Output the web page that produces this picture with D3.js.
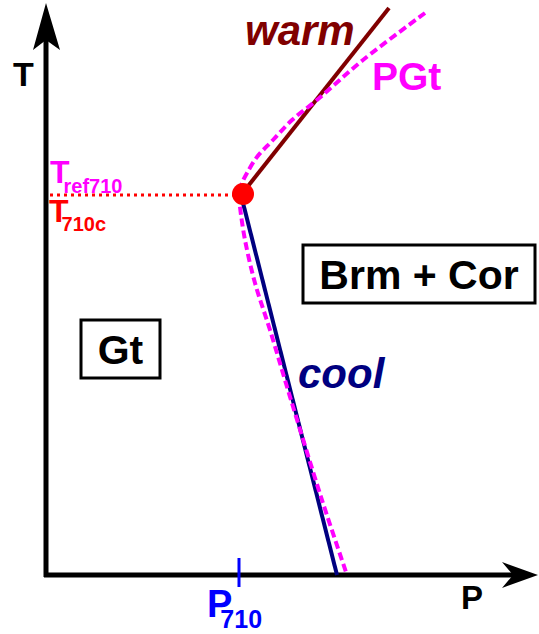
<!DOCTYPE html>
<html>
<head>
<meta charset="utf-8">
<script src="https://cdn.jsdelivr.net/npm/d3@7"></script>
<style>
  body { margin: 0; background: #fff; }
  text { font-family: "Liberation Sans", Arial, Helvetica, sans-serif; font-weight: bold; }
</style>
</head>
<body>
<script>
// phase boundaries in (P, T), arbitrary units
var pgtP = [75.8, 63.4, 54.2, 49.2, 45.4, 42.2, 40.2, 39.2, 38.6, 38.8, 39.8, 41.8, 44.8, 49, 55.2, 60.2];
var pgtT = [112.4, 103, 95, 91, 87, 83.6, 80.4, 78.4, 76, 73.6, 67, 58.4, 49, 35, 15, 0];
var warmP = [39, 68.6];
var warmT = [76, 113.4];
var coolP = [39, 58.2];
var coolT = [76, 0];
var p710 = 39, t710 = 76;

var width = 539, height = 634;

var svg = d3.select("body").append("svg")
    .attr("width", width)
    .attr("height", height);

var x = d3.scaleLinear().domain([0, 100]).range([46, 546]);
var y = d3.scaleLinear().domain([0, 100]).range([575, 75]);

var line = d3.line()
    .x(function(d) { return x(d[0]); })
    .y(function(d) { return y(d[1]); });

// axes with arrow heads
var x0 = x(0), y0 = y(0);
svg.append("line")
    .attr("x1", x0).attr("y1", y0 + 2)
    .attr("x2", x0).attr("y2", 30)
    .attr("stroke", "#000").attr("stroke-width", 5);
svg.append("line")
    .attr("x1", x0 - 2).attr("y1", y0)
    .attr("x2", 520).attr("y2", y0)
    .attr("stroke", "#000").attr("stroke-width", 5);
svg.append("path")
    .attr("d", "M" + x0 + ",3L" + (x0 + 14) + ",50L" + x0 + ",40L" + (x0 - 13) + ",50Z")
    .attr("fill", "#000");
svg.append("path")
    .attr("d", "M538," + y0 + "L502," + (y0 - 13) + "L513," + y0 + "L502," + (y0 + 13) + "Z")
    .attr("fill", "#000");

svg.append("text").attr("x", 13).attr("y", 86).attr("font-size", 34).text("T");
svg.append("text").attr("x", 461).attr("y", 609).attr("font-size", 33).text("P");

// reference temperature guide
svg.append("line")
    .attr("x1", x0 + 4).attr("y1", y(t710))
    .attr("x2", x(p710)).attr("y2", y(t710))
    .attr("stroke", "#ff0000").attr("stroke-width", 3)
    .attr("stroke-dasharray", "3,4");

// P710 tick
svg.append("line")
    .attr("x1", x(p710) - 2).attr("y1", y0 - 17)
    .attr("x2", x(p710) - 2).attr("y2", y0 + 12)
    .attr("stroke", "#0000ff").attr("stroke-width", 3);

// curves
svg.append("path")
    .datum(d3.zip(warmP, warmT))
    .attr("d", line)
    .attr("fill", "none")
    .attr("stroke", "#800000").attr("stroke-width", 4);
svg.append("path")
    .datum(d3.zip(coolP, coolT))
    .attr("d", line)
    .attr("fill", "none")
    .attr("stroke", "#000080").attr("stroke-width", 4);
svg.append("path")
    .datum(d3.zip(pgtP, pgtT))
    .attr("d", line.curve(d3.curveCatmullRom))
    .attr("fill", "none")
    .attr("stroke", "#ff00ff").attr("stroke-width", 4)
    .attr("stroke-dasharray", "8,4");

svg.append("circle")
    .attr("cx", x(p710) + 2).attr("cy", y(t710) - 1)
    .attr("r", 11)
    .attr("fill", "#ff0000");

// labels with subscripts
function subLabel(px, py, size, subSize, dx, dy, color, main, sub) {
  var t = svg.append("text").attr("x", px).attr("y", py)
      .attr("font-size", size).attr("fill", color).text(main);
  t.append("tspan").attr("dx", dx).attr("dy", dy)
      .attr("font-size", subSize).text(sub);
}
subLabel(50, 183, 32, 20, -6, 10, "#ff00ff", "T", "ref710");
subLabel(49, 222, 32, 20, -7, 9, "#ff0000", "T", "710c");
subLabel(207, 617, 38, 25, -12, 11, "#0000ff", "P", "710");

svg.append("text").attr("x", 245).attr("y", 45).attr("font-size", 42)
    .attr("font-style", "italic").attr("fill", "#800000").text("warm");
svg.append("text").attr("x", 298).attr("y", 388).attr("font-size", 42)
    .attr("font-style", "italic").attr("fill", "#000080").text("cool");
svg.append("text").attr("x", 372).attr("y", 90).attr("font-size", 39)
    .attr("fill", "#ff00ff").text("PGt");

// field boxes
var fields = [
  { name: "Brm + Cor", x: 303, y: 245, w: 232, h: 58 },
  { name: "Gt", x: 81, y: 320, w: 79, h: 58 }
];
var box = svg.selectAll(".field").data(fields).enter().append("g").attr("class", "field");
box.append("rect")
    .attr("x", function(d) { return d.x; })
    .attr("y", function(d) { return d.y; })
    .attr("width", function(d) { return d.w; })
    .attr("height", function(d) { return d.h; })
    .attr("fill", "#fff").attr("stroke", "#000").attr("stroke-width", 3);
box.append("text")
    .attr("x", function(d) { return d.x + d.w / 2; })
    .attr("y", function(d) { return d.y + d.h / 2 + 15; })
    .attr("text-anchor", "middle")
    .attr("font-size", 41)
    .text(function(d) { return d.name; });
</script>
</body>
</html>
